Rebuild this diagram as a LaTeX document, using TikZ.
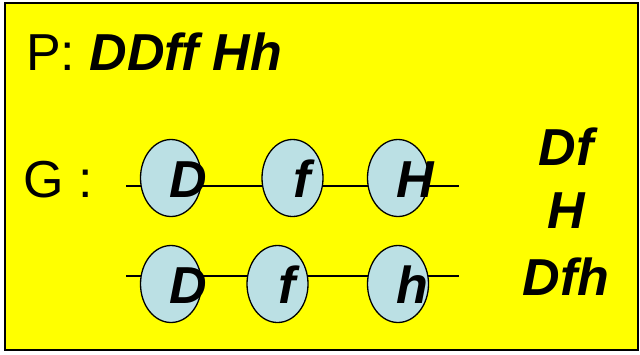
\documentclass[tikz,border=0pt]{standalone}
\usepackage{fontspec}
\setmainfont{Liberation Sans}
\usetikzlibrary{shapes.geometric}

\definecolor{slideyellow}{RGB}{255,255,0}
\definecolor{chromblue}{RGB}{187,224,228}

\tikzset{
    big/.style={font=\fontsize{52}{60}\selectfont, inner sep=0pt},
    allele/.style={big, font=\fontsize{52}{60}\selectfont\bfseries\itshape, anchor=base},
    locus/.style={ellipse, draw, line width=1.3pt, fill=chromblue,
        minimum width=61pt, minimum height=77pt, inner sep=0pt},
}

\begin{document}
\begin{tikzpicture}[x=1pt, y=-1pt]
    \useasboundingbox (0,0) rectangle (640,354);
    % the yellow slide box
    \draw[line width=2pt, fill=slideyellow] (5,3) rectangle (638,350);

    \node[big, anchor=base west] (parents) at (26,70) {P: \textbf{\textit{DDff Hh}}};
    \node[big, anchor=base west] (geno) at (23,197) {G :};

    % the two chromosomes (lines first, the loci sit on top)
    \coordinate (topA) at (126,186);
    \coordinate (topB) at (459,186);
    \coordinate (botA) at (126,276);
    \coordinate (botB) at (459,276);
    \draw[line width=1.3pt] (topA) -- (topB);
    \draw[line width=1.3pt] (botA) -- (botB);

    \node[locus] (t1) at (171,178) {};
    \node[locus] (t2) at (292.5,178) {};
    \node[locus] (t3) at (398,178) {};
    \node[locus] (b1) at (171,284) {};
    \node[locus] (b2) at (277.5,284) {};
    \node[locus] (b3) at (398,284) {};

    % alleles, a bit right of the locus centre
    \node[allele] (tD) at ([xshift=17pt, yshift=-19pt]t1.center) {D};
    \node[allele] (tf) at ([xshift=10pt, yshift=-19pt]t2.center) {f};
    \node[allele] (tH) at ([xshift=17pt, yshift=-19pt]t3.center) {H};
    \node[allele] (bD) at ([xshift=17pt, yshift=-19pt]b1.center) {D};
    \node[allele] (bf) at ([xshift=10pt, yshift=-19pt]b2.center) {f};
    \node[allele] (bh) at ([xshift=14pt, yshift=-19pt]b3.center) {h};

    % gametes column
    \node[allele] (g1) at (566,165) {Df};
    \node[allele] (g2) at (566,228) {H};
    \node[allele] (g3) at (566,295) {Dfh};
\end{tikzpicture}
\end{document}
